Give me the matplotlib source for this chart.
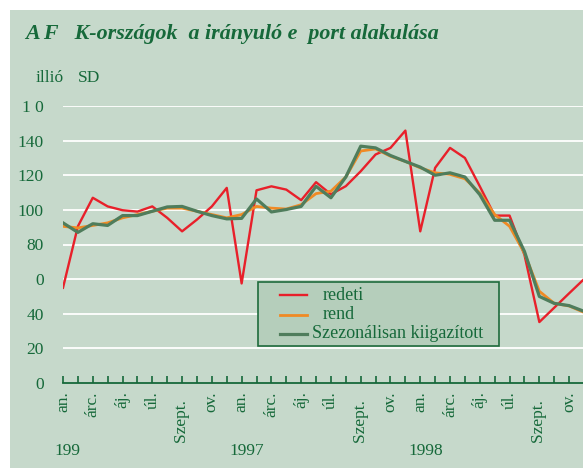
import matplotlib.pyplot as plt
from matplotlib.lines import Line2D
from matplotlib.patches import Rectangle

# month index 0..35 = Jan 1996 .. Dec 1998
months = list(range(36))
tick_labels = ['an.', '', 'árc.', '', 'áj.', '', 'úl.', '', 'Szept.  ', '', 'ov.', ''] * 3
year_labels = ['199', '1997', '1998']
y_ticks = [0, 20, 40, 60, 80, 100, 120, 140, 160]
y_tick_labels = ['0', '20', '40', '0', '80', '100', '120', '140', '1 0']

eredeti = [55, 90.5, 107, 102, 99.8, 99, 102, 95.4, 87.6, 94.4, 102, 112.7,
           57.5, 111.3, 113.6, 111.7, 105.6, 116, 109, 113.7, 122.3, 132, 135.8, 145.8,
           87.6, 124.3, 135.8, 130, 113.6, 96.7, 96.7, 74, 35.2, 43.5, 51.8, 60]
trend = [90.5, 89.6, 91, 92.5, 95.4, 97.3, 99.2, 101, 101, 99.2, 97.3, 95.4,
         97.3, 102, 101, 100.5, 103, 109.4, 110.8, 119, 134, 135.2, 131, 128,
         124.3, 121.4, 120.5, 118, 109.8, 97.3, 90.5, 75, 53, 46, 44.5, 40.8]
szezon = [92.5, 87, 92, 91, 96.7, 96.7, 99.2, 101.7, 102, 99.2, 96.7, 94.8,
          95.1, 106.3, 98.8, 100.2, 102, 113.6, 107, 119, 136.8, 135.8, 131.4, 128,
          124.7, 120, 121.4, 119, 108.8, 94, 94, 76, 50, 46, 44.7, 41.4]

series = [('redeti', eredeti, '#e8202a', 1.7),
          ('rend', trend, '#f08a24', 2.0),
          ('Szezonálisan kiigazított', szezon, '#4f7d5c', 2.3)]

BG = '#c6d9cb'
TXT = '#16693a'
FS = 12.5
plt.rcParams['font.family'] = ['Liberation Serif', 'DejaVu Serif']

W, H = 583, 468
px = lambda x, y: (x / W, 1 - y / H)

fig = plt.figure(figsize=(W / 100, H / 100), dpi=100, facecolor='white')
fig.patches.append(Rectangle((10 / W, 0), 1, 1 - 10 / H, transform=fig.transFigure,
                             facecolor=BG, edgecolor='none', zorder=-10))

ax = fig.add_axes([63 / W, 1 - 383 / H, (584 - 63) / W, (383 - 106) / H])
ax.set_facecolor('none')
for y in y_ticks[1:]:
    ax.axhline(y, color='white', lw=1.3, zorder=1)

for i, (name, vals, col, lw) in enumerate(series):
    ax.plot(months, vals, color=col, lw=lw, zorder=3 + i)

ax.set_xlim(0, 35)
ax.set_ylim(0, 160)
for s in ['top', 'right', 'left']:
    ax.spines[s].set_visible(False)
ax.spines['bottom'].set_color(TXT)
ax.spines['bottom'].set_linewidth(1.3)

ax.set_xticks(months)
ax.set_xticklabels(tick_labels, rotation=90, fontsize=FS, color=TXT)
ax.tick_params(axis='x', direction='in', length=5, width=1.2, color=TXT, pad=6)
ax.set_yticks(y_ticks)
ax.set_yticklabels(y_tick_labels, fontsize=FS, color=TXT)
ax.tick_params(axis='y', length=0, pad=14)

for i, lab in enumerate(year_labels):
    fig.text(*px(67 + i * 179.5, 451), lab, ha='center', va='center',
             fontsize=FS, color=TXT)

fig.text(*px(25, 34), 'A F   K-országok  a irányuló e  port alakulása',
         fontsize=15.8, fontweight='bold', fontstyle='italic', color=TXT, va='center')
fig.text(*px(36, 78), 'illió', fontsize=FS, color=TXT, va='center')
fig.text(*px(78, 78), 'SD', fontsize=FS, color=TXT, va='center')

# legend box
x0, y0, x1, y1 = 258, 282, 499, 346
fig.patches.append(Rectangle(px(x0, y1), (x1 - x0) / W, (y1 - y0) / H,
                             transform=fig.transFigure, facecolor='#b5cebb',
                             edgecolor='#1e6b3c', lw=1.2, zorder=20))
for i, (name, vals, col, lw) in enumerate(series):
    yy = 295 + i * 19.5
    fig.add_artist(Line2D([280 / W, 307 / W], [1 - yy / H] * 2, color=col,
                          lw=lw, transform=fig.transFigure, zorder=21))
    tx = 312 if i == 2 else 323
    fig.text(*px(tx, yy), name, fontsize=13, color=TXT, va='center', zorder=22)

fig.savefig('out.png', dpi=100, facecolor='white')
